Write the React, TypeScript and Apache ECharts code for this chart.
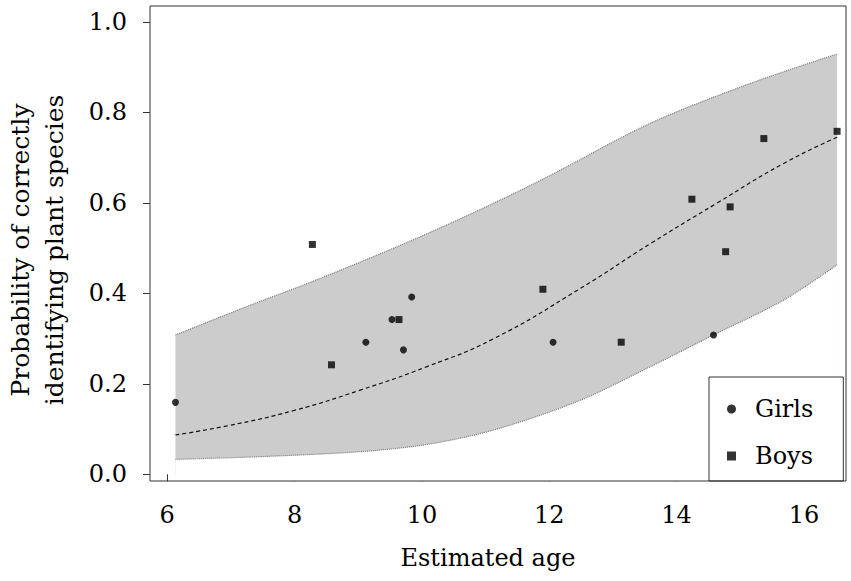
import React, { useEffect, useRef } from "react";
import * as echarts from "echarts";

// Observations
const girlsAge = [6.13, 9.12, 9.53, 9.71, 9.84, 12.06, 14.58];
const girlsProb = [0.159, 0.292, 0.342, 0.275, 0.392, 0.292, 0.308];
const boysAge = [8.28, 8.58, 9.64, 11.9, 13.13, 14.24, 14.77, 14.84, 15.37, 16.52];
const boysProb = [0.508, 0.242, 0.342, 0.409, 0.292, 0.608, 0.492, 0.591, 0.742, 0.758];

// Fitted curve (dashed)
const fitAge = [6.13, 6.94, 7.99, 9.03, 10.08, 11.13, 12.49, 13.59, 14.63, 15.68, 16.52];
const fitProb = [0.087, 0.107, 0.141, 0.186, 0.238, 0.3, 0.411, 0.51, 0.599, 0.687, 0.745];

// Confidence band
const upperAge = [6.13, 7.31, 8.28, 9.61, 10.45, 11.23, 12.02, 13.59, 15.16, 16.52];
const upperProb = [0.308, 0.374, 0.426, 0.503, 0.555, 0.606, 0.661, 0.776, 0.864, 0.929];
const lowerAge = [6.13, 7.46, 9.03, 10.08, 11.13, 12.46, 13.59, 14.58, 15.68, 16.52];
const lowerProb = [0.033, 0.039, 0.05, 0.066, 0.098, 0.162, 0.238, 0.308, 0.385, 0.463];

// Ticks
const xTicks = [6, 8, 10, 12, 14, 16];
const yTicks = [0, 0.2, 0.4, 0.6, 0.8, 1.0];

const zip = (a: number[], b: number[]) => a.map((v, i) => [v, b[i]]);

const FONT = "DejaVu Serif";
const INK = "#000000";

export default function App() {
  const ref = useRef<HTMLDivElement>(null);
  useEffect(() => {
    if (!ref.current) return;
    const chart = echarts.init(ref.current, undefined, { renderer: "svg" });
    chart.setOption({
      animation: false,
      backgroundColor: "#ffffff",
      textStyle: { fontFamily: FONT },
      grid: {
        left: 150,
        right: 5,
        top: 6,
        bottom: 100,
        show: true,
        borderColor: "#333333",
        borderWidth: 1,
        backgroundColor: "transparent",
        z: 10,
      },
      xAxis: {
        type: "value",
        min: 5.73,
        max: 16.66,
        splitLine: { show: false },
        axisLine: { show: false },
        axisTick: {
          show: true,
          inside: false,
          length: 7,
          customValues: xTicks,
          lineStyle: { color: "#333333", width: 1 },
        },
        axisLabel: {
          customValues: xTicks,
          margin: 22,
          fontSize: 24,
          fontFamily: FONT,
          color: INK,
          formatter: (v: number) => String(v),
        },
      },
      yAxis: {
        type: "value",
        min: -0.0148,
        max: 1.035,
        splitLine: { show: false },
        axisLine: { show: false },
        axisTick: {
          show: true,
          inside: false,
          length: 7,
          customValues: yTicks,
          lineStyle: { color: "#333333", width: 1 },
        },
        axisLabel: {
          customValues: yTicks,
          margin: 23,
          fontSize: 24,
          fontFamily: FONT,
          color: INK,
          formatter: (v: number) => v.toFixed(1),
        },
      },
      legend: {
        data: [
          { name: "Girls", icon: "circle" },
          { name: "Boys", icon: "rect" },
        ],
        orient: "vertical",
        left: 709,
        top: 377,
        itemWidth: 9,
        itemHeight: 9,
        itemGap: 23,
        padding: [20, 30, 13, 18],
        borderColor: "#333333",
        borderWidth: 1,
        borderRadius: 0,
        backgroundColor: "#ffffff",
        itemStyle: { color: "#000000" },
        textStyle: {
          fontSize: 24,
          fontFamily: FONT,
          color: INK,
          padding: [0, 0, 0, 14],
        },
      },
      graphic: [
        {
          type: "text",
          x: 488,
          y: 558,
          style: {
            text: "Estimated age",
            font: `24px '${FONT}'`,
            fill: INK,
            align: "center",
            verticalAlign: "middle",
          },
        },
        {
          type: "text",
          x: 37,
          y: 250,
          rotation: Math.PI / 2,
          style: {
            text: "Probability of correctly\nidentifying plant species",
            font: `25px '${FONT}'`,
            fill: INK,
            align: "center",
            verticalAlign: "middle",
            lineHeight: 34,
          },
        },
      ],
      series: [
        {
          type: "line",
          name: "upper",
          data: zip(upperAge, upperProb),
          showSymbol: false,
          symbol: "none",
          smooth: 0.3,
          silent: true,
          z: 1,
          lineStyle: { color: "#777777", width: 1.2, type: [1, 1] },
          areaStyle: { color: "#cccccc", opacity: 1, origin: 0 },
        },
        {
          type: "line",
          name: "lower",
          data: zip(lowerAge, lowerProb),
          showSymbol: false,
          symbol: "none",
          smooth: 0.3,
          silent: true,
          z: 2,
          lineStyle: { color: "#777777", width: 1.2, type: [1, 1] },
          areaStyle: { color: "#ffffff", opacity: 1, origin: "start" },
        },
        {
          type: "line",
          name: "fit",
          data: zip(fitAge, fitProb),
          showSymbol: false,
          symbol: "none",
          smooth: 0.5,
          silent: true,
          z: 3,
          lineStyle: { color: "#111111", width: 1.2, type: [4, 3] },
        },
        {
          type: "scatter",
          name: "Girls",
          symbol: "circle",
          symbolSize: 7,
          z: 4,
          itemStyle: { color: "#000000" },
          data: zip(girlsAge, girlsProb),
        },
        {
          type: "scatter",
          name: "Boys",
          symbol: "rect",
          symbolSize: 7,
          z: 4,
          itemStyle: { color: "#000000" },
          data: zip(boysAge, boysProb),
        },
      ],
    });
    return () => chart.dispose();
  }, []);
  return (
    <div
      ref={ref}
      style={{ position: "fixed", left: 0, top: 0, width: 851, height: 581 }}
    />
  );
}
